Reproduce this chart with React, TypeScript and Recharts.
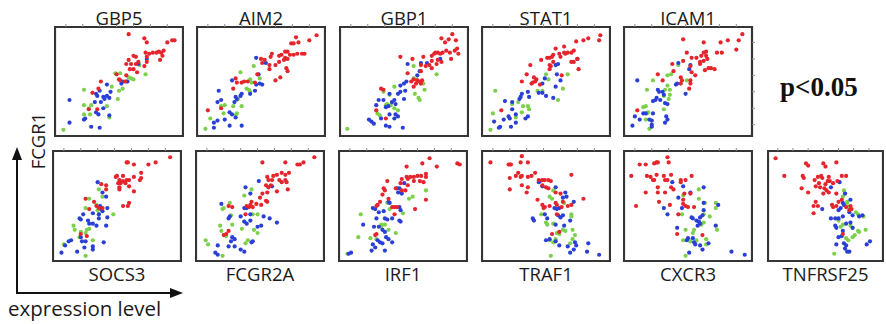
import React from 'react';
import { ScatterChart, Scatter, XAxis, YAxis, ReferenceArea } from 'recharts';

type Pt = [number, number];

// ---------- data (x = expression level, y = FCGR1), 0..100 scale ----------
const gbp5Red: Pt[] = [[58,96],[71,92],[73,88],[94,90],[96,90],[90,88],[87,80],[83,79],[85,78],[81,78],[78,78],[75,77],[72,78],[73,74],[86,75],[84,71],[62,75],[64,74],[58,71],[56,67],[60,67],[64,67],[66,69],[73,69],[71,65],[62,62],[65,59],[59,62],[56,56],[51,51],[50,52],[55,50],[48,57],[35,50],[33,43],[32,23],[25,23],[28,39]];
const gbp5Blue: Pt[] = [[56,50],[57,50],[53,50],[52,48],[66,67],[73,72],[40,47],[43,40],[40,36],[42,34],[37,35],[38,33],[31,38],[32,36],[30,30],[35,30],[9,32],[34,41],[31,20],[33,18],[21,13],[22,14],[9,10],[27,6],[34,5],[37,24],[42,17]];
const gbp5Green: Pt[] = [[4,3],[21,42],[21,27],[21,18],[27,27],[25,24],[26,18],[44,45],[47,58],[51,58],[50,41],[53,43],[49,33],[40,26],[42,15],[62,52],[60,53],[66,68],[67,66],[72,57],[58,54]];

const aim2Red: Pt[] = [[96,95],[90,90],[79,93],[81,88],[77,87],[75,87],[72,79],[70,79],[77,76],[80,77],[84,77],[86,77],[74,76],[67,76],[65,75],[59,77],[58,74],[70,73],[72,72],[69,71],[65,69],[62,66],[71,63],[72,60],[57,66],[57,62],[53,71],[51,68],[50,72],[66,54],[62,51],[47,57],[45,49],[39,50],[36,50],[34,49],[29,53],[30,49],[27,43],[6,22],[17,24]];
const aim2Blue: Pt[] = [[46,73],[54,68],[48,57],[49,48],[51,47],[46,47],[26,51],[15,41],[14,30],[17,32],[34,38],[33,36],[29,35],[30,33],[28,30],[41,38],[45,41],[24,20],[26,18],[20,13],[11,10],[14,12],[11,5],[24,7],[34,7],[29,15]];
const aim2Green: Pt[] = [[4,4],[8,14],[20,27],[17,26],[19,19],[33,59],[44,65],[41,52],[42,49],[38,43],[40,42],[41,40],[31,33],[30,32],[27,26],[30,19],[29,17],[34,26],[49,53]];

const gbp1Red: Pt[] = [[90,96],[81,92],[87,91],[93,90],[84,88],[94,82],[92,80],[95,77],[85,80],[82,78],[78,78],[75,77],[73,75],[76,78],[80,77],[88,78],[89,72],[66,74],[57,72],[47,74],[73,70],[78,71],[77,67],[81,69],[64,66],[68,65],[71,66],[73,63],[64,60],[53,58],[58,52],[61,51],[63,50],[65,51],[56,50],[60,48],[64,48],[58,45],[31,43],[33,42],[27,22],[35,14]];
const gbp1Blue: Pt[] = [[53,67],[64,68],[69,68],[80,72],[63,60],[61,56],[52,50],[50,48],[47,46],[47,40],[45,38],[51,41],[38,38],[42,32],[40,30],[43,28],[50,33],[29,32],[33,32],[35,25],[37,26],[27,27],[38,18],[43,18],[45,16],[42,14],[21,13],[23,11],[25,9],[35,7],[38,6],[49,5],[31,14]];
const gbp1Green: Pt[] = [[3,4],[58,65],[58,53],[60,52],[42,45],[66,48],[67,42],[59,38],[62,34],[63,32],[77,57],[38,37],[33,40],[35,27],[39,27],[42,24],[45,22],[28,19],[30,17],[36,28]];

const stat1Red: Pt[] = [[95,95],[94,90],[85,92],[81,90],[75,89],[73,80],[71,78],[68,78],[66,77],[65,78],[61,77],[62,74],[56,76],[55,74],[53,73],[51,73],[46,71],[65,84],[58,82],[76,72],[73,69],[71,69],[77,62],[56,69],[53,66],[54,65],[37,66],[53,62],[34,57],[40,54],[42,52],[41,50],[39,49],[38,48],[30,50],[63,56],[45,47],[13,22]];
const stat1Blue: Pt[] = [[76,72],[58,66],[60,67],[59,57],[62,51],[49,53],[47,48],[44,39],[47,39],[50,36],[58,45],[56,34],[35,40],[36,35],[30,38],[29,35],[28,33],[22,30],[16,31],[22,23],[19,16],[20,14],[15,13],[12,6],[11,5],[21,6],[25,10],[33,14],[35,16],[25,18],[7,11]];
const stat1Green: Pt[] = [[4,3],[8,41],[6,19],[27,30],[31,26],[35,26],[36,23],[30,20],[25,15],[22,28],[50,57],[52,52],[47,41],[60,32],[64,43],[68,57],[43,41]];

const icam1Red: Pt[] = [[95,96],[92,90],[83,90],[77,88],[90,81],[63,88],[46,91],[74,78],[78,78],[65,79],[63,78],[65,75],[61,75],[66,72],[63,70],[69,63],[72,62],[67,63],[64,61],[60,69],[60,67],[57,73],[53,73],[49,78],[46,70],[37,67],[38,60],[52,65],[53,59],[56,56],[52,51],[52,48],[51,43],[44,54],[45,51],[29,51],[25,57],[8,22],[44,48]];
const icam1Blue: Pt[] = [[42,68],[52,66],[51,62],[8,51],[41,48],[40,47],[48,38],[25,42],[26,40],[29,40],[30,37],[24,34],[23,32],[27,32],[21,31],[31,29],[33,28],[13,19],[15,19],[21,19],[6,16],[10,13],[18,13],[20,12],[32,16],[33,13],[31,10],[20,8],[20,6],[4,7]];
const icam1Green: Pt[] = [[16,42],[21,51],[33,56],[36,57],[42,66],[33,46],[35,42],[35,37],[34,33],[30,36],[31,42],[15,26],[13,25],[17,20],[16,19],[30,23],[18,4],[15,13],[49,51]];

const socs3Red: Pt[] = [[94,97],[82,92],[76,90],[64,90],[58,92],[59,92],[70,82],[70,77],[69,75],[64,78],[55,79],[50,79],[49,78],[52,75],[55,74],[58,75],[60,75],[57,72],[53,72],[51,72],[52,68],[52,66],[60,69],[64,64],[60,53],[59,50],[55,50],[41,70],[37,71],[41,66],[24,57],[31,54],[33,50],[27,47],[38,48],[35,48],[20,23],[25,21]];
const socs3Blue: Pt[] = [[34,73],[38,63],[41,59],[36,50],[37,47],[38,45],[42,48],[35,42],[30,43],[22,42],[20,37],[19,38],[26,36],[27,33],[30,33],[33,31],[35,38],[42,39],[41,31],[12,17],[10,16],[20,20],[21,16],[24,16],[30,11],[30,8],[39,15],[17,6],[4,5],[23,10],[7,12]];
const socs3Green: Pt[] = [[35,66],[38,59],[27,57],[24,48],[33,51],[34,46],[35,42],[47,42],[14,31],[15,27],[20,25],[25,27],[27,28],[24,24],[19,20],[30,17],[6,13],[24,2]];

const fcgr2aRed: Pt[] = [[95,97],[86,92],[83,90],[81,90],[71,92],[52,92],[74,82],[71,80],[68,82],[64,80],[61,79],[56,78],[57,75],[60,75],[66,75],[71,75],[72,73],[68,73],[55,70],[57,68],[59,70],[64,64],[73,66],[56,63],[52,62],[50,58],[55,55],[56,54],[43,54],[42,51],[44,49],[47,52],[51,51],[39,50],[41,49],[24,50],[27,49],[38,42],[20,22],[22,23],[24,26]];
const fcgr2aBlue: Pt[] = [[49,74],[38,68],[60,69],[42,62],[18,52],[39,48],[37,48],[42,42],[34,40],[25,40],[24,38],[37,35],[39,33],[42,36],[53,40],[58,38],[64,34],[51,31],[48,30],[27,20],[29,18],[26,16],[29,11],[15,12],[44,16],[43,15],[34,8],[37,6],[13,5],[15,3],[24,11]];
const fcgr2aGreen: Pt[] = [[37,60],[43,66],[25,53],[19,47],[20,48],[26,41],[27,32],[17,31],[18,26],[35,28],[44,42],[48,42],[45,27],[48,24],[37,35],[40,17],[38,14],[5,17],[7,13],[19,2],[22,21]];

const irf1Red: Pt[] = [[72,96],[66,91],[78,88],[95,91],[97,90],[53,88],[69,81],[69,78],[65,79],[62,79],[59,78],[56,78],[53,78],[54,76],[49,76],[48,72],[64,74],[67,73],[59,74],[54,70],[37,74],[52,65],[49,65],[34,67],[35,65],[44,67],[33,61],[38,57],[31,54],[28,50],[29,51],[41,49],[43,49],[45,49],[43,42],[69,56],[60,47],[27,22],[28,23]];
const irf1Blue: Pt[] = [[51,72],[45,67],[47,67],[46,63],[49,62],[38,54],[39,53],[25,48],[27,47],[30,44],[28,38],[34,45],[35,38],[37,37],[47,49],[48,46],[47,36],[48,35],[41,38],[26,30],[30,30],[17,32],[33,27],[35,25],[36,20],[38,18],[29,17],[31,15],[25,13],[27,10],[33,14],[41,15],[24,7],[35,7],[7,5],[5,4]];
const irf1Green: Pt[] = [[37,53],[39,47],[55,57],[58,59],[50,43],[69,65],[15,42],[32,32],[32,30],[38,27],[35,32],[44,24],[13,20],[23,19],[28,18],[4,4]];

const traf1Red: Pt[] = [[4,92],[19,90],[20,90],[21,90],[30,98],[29,92],[35,92],[27,82],[25,79],[29,78],[30,79],[35,78],[38,79],[41,82],[20,77],[44,75],[47,75],[49,75],[52,75],[54,74],[30,70],[35,68],[34,63],[20,66],[47,70],[50,68],[52,67],[58,63],[62,62],[71,80],[43,56],[47,51],[49,49],[48,48],[53,50],[58,53],[59,51],[64,54],[63,49],[68,50],[71,51],[81,57],[59,42],[55,23],[61,25]];
const traf1Blue: Pt[] = [[44,73],[45,74],[47,69],[58,68],[66,63],[67,59],[64,58],[73,54],[57,48],[59,47],[61,48],[49,42],[60,41],[62,39],[64,41],[39,38],[40,36],[51,38],[58,32],[65,31],[70,36],[50,17],[53,18],[58,16],[61,12],[68,11],[74,15],[75,12],[73,8],[70,5],[85,14],[84,6],[94,3]];
const traf1Green: Pt[] = [[56,65],[53,59],[55,57],[65,53],[46,42],[71,42],[71,40],[50,34],[51,32],[56,33],[64,27],[66,26],[72,27],[74,22],[72,18],[59,24],[61,23],[53,17],[56,15],[70,14],[54,2],[58,18]];

const cxcr3Red: Pt[] = [[33,97],[34,92],[24,92],[22,91],[25,92],[10,90],[15,90],[3,79],[24,80],[16,79],[19,78],[21,75],[22,75],[30,79],[31,75],[33,75],[36,80],[44,75],[44,73],[53,79],[48,75],[25,68],[25,63],[36,68],[38,66],[31,63],[15,63],[47,62],[52,62],[46,56],[26,54],[35,51],[46,52],[48,50],[50,49],[55,49],[7,50],[42,42],[41,23],[62,22]];
const cxcr3Blue: Pt[] = [[37,73],[46,69],[52,63],[63,68],[42,58],[45,48],[30,48],[33,42],[53,39],[54,38],[57,36],[59,35],[60,33],[60,39],[62,41],[58,31],[63,46],[63,53],[75,51],[73,31],[41,29],[49,17],[50,19],[55,15],[56,13],[54,19],[60,12],[62,8],[67,14],[51,5],[86,6],[97,3]];
const cxcr3Green: Pt[] = [[59,66],[59,57],[46,60],[64,53],[45,42],[73,53],[73,48],[68,40],[63,42],[63,34],[61,32],[74,27],[55,27],[54,24],[48,27],[57,17],[56,15],[65,18],[46,17],[65,13],[48,2],[52,16]];

const tnfrsf25Red: Pt[] = [[4,96],[12,79],[32,91],[34,89],[48,91],[50,88],[60,92],[29,79],[30,77],[40,75],[43,78],[46,79],[47,77],[53,78],[65,79],[69,79],[61,74],[57,72],[54,74],[52,74],[50,71],[44,72],[45,68],[49,67],[51,65],[53,63],[48,62],[41,69],[28,67],[34,63],[60,62],[41,54],[39,50],[43,50],[39,43],[56,51],[57,49],[60,50],[62,54],[65,56],[69,49],[73,50],[74,47],[66,23],[72,46]];
const tnfrsf25Blue: Pt[] = [[55,68],[63,73],[68,62],[66,53],[67,51],[73,56],[47,47],[62,46],[64,48],[72,44],[55,38],[59,38],[62,38],[66,40],[69,33],[73,34],[75,41],[81,40],[84,41],[59,31],[60,29],[75,29],[62,20],[65,21],[60,13],[67,14],[69,12],[68,9],[70,6],[72,6],[88,13],[91,16],[66,26]];
const tnfrsf25Green: Pt[] = [[67,65],[68,62],[66,59],[70,54],[70,53],[71,49],[78,44],[80,42],[85,40],[62,36],[64,30],[66,32],[73,31],[75,29],[80,26],[81,25],[77,22],[75,20],[87,27],[58,4],[71,17],[69,19]];

const geneNames = ['GBP5', 'AIM2', 'GBP1', 'STAT1', 'ICAM1', 'SOCS3', 'FCGR2A', 'IRF1', 'TRAF1', 'CXCR3', 'TNFRSF25'];
const yLabel = 'FCGR1';
const xLabel = 'expression level';
const pLabel = 'p<0.05';
const topTicks = [6, 20, 34, 48, 62, 76, 90];
const rightTicks = [8, 24, 40, 56, 72, 88];

const seriesByGene: Record<string, Pt[][]> = {
  GBP5: [gbp5Red, gbp5Blue, gbp5Green],
  AIM2: [aim2Red, aim2Blue, aim2Green],
  GBP1: [gbp1Red, gbp1Blue, gbp1Green],
  STAT1: [stat1Red, stat1Blue, stat1Green],
  ICAM1: [icam1Red, icam1Blue, icam1Green],
  SOCS3: [socs3Red, socs3Blue, socs3Green],
  FCGR2A: [fcgr2aRed, fcgr2aBlue, fcgr2aGreen],
  IRF1: [irf1Red, irf1Blue, irf1Green],
  TRAF1: [traf1Red, traf1Blue, traf1Green],
  CXCR3: [cxcr3Red, cxcr3Blue, cxcr3Green],
  TNFRSF25: [tnfrsf25Red, tnfrsf25Blue, tnfrsf25Green],
};

// ---------- layout / style ----------
const RED = '#e5242c';
const BLUE = '#2a3fd6';
const GREEN = '#7dd04b';
const FRAME = '#353535';
const FONT = '"Open Sans", "Noto Sans", sans-serif';

const layout: Record<string, { left: number; top: number; w: number; h: number; row: number; rt?: boolean }> = {
  GBP5: { left: 54, top: 26, w: 130, h: 111, row: 0 },
  AIM2: { left: 196, top: 26, w: 130, h: 111, row: 0 },
  GBP1: { left: 339, top: 26, w: 130, h: 111, row: 0 },
  STAT1: { left: 481, top: 26, w: 130, h: 111, row: 0 },
  ICAM1: { left: 623, top: 26, w: 130, h: 111, row: 0, rt: true },
  SOCS3: { left: 52, top: 150, w: 130, h: 112, row: 1 },
  FCGR2A: { left: 195, top: 150, w: 130, h: 112, row: 1 },
  IRF1: { left: 338, top: 150, w: 130, h: 112, row: 1 },
  TRAF1: { left: 481, top: 150, w: 130, h: 112, row: 1 },
  CXCR3: { left: 623, top: 150, w: 130, h: 112, row: 1 },
  TNFRSF25: { left: 767, top: 150, w: 117, h: 112, row: 1 },
};

const toObj = (a: Pt[]) => a.map(([x, y]) => ({ x, y }));
const dot = (color: string) => (p: any) => <circle cx={p.cx} cy={p.cy} r={2.1} fill={color} />;

function Panel({ gene }: { gene: string }) {
  const L = layout[gene];
  const [red, blue, green] = seriesByGene[gene];
  const rw = L.rt ? 5 : 0;
  return (
    <div style={{ position: 'absolute', left: L.left, top: L.top - 5 }}>
      <ScatterChart width={L.w + rw} height={L.h + 5} margin={{ top: 1, right: 1, bottom: 1, left: 1 }}>
        <XAxis
          type="number"
          dataKey="x"
          domain={[-3, 103]}
          orientation="top"
          height={5}
          ticks={topTicks}
          tickSize={3}
          axisLine={false}
          tickLine={{ stroke: '#8c8c8c', strokeWidth: 1 }}
          tickFormatter={() => ''}
          allowDataOverflow
        />
        <YAxis
          type="number"
          dataKey="y"
          domain={[-3, 103]}
          orientation="right"
          width={rw}
          hide={!L.rt}
          ticks={rightTicks}
          tickSize={3}
          axisLine={false}
          tickLine={{ stroke: '#8c8c8c', strokeWidth: 1 }}
          tickFormatter={() => ''}
          allowDataOverflow
        />
        <ReferenceArea x1={-3} x2={103} y1={-3} y2={103} fill="#ffffff" fillOpacity={0} stroke={FRAME} strokeWidth={2.2} ifOverflow="visible" />
        <Scatter data={toObj(green)} isAnimationActive={false} shape={dot(GREEN)} />
        <Scatter data={toObj(blue)} isAnimationActive={false} shape={dot(BLUE)} />
        <Scatter data={toObj(red)} isAnimationActive={false} shape={dot(RED)} />
      </ScatterChart>
    </div>
  );
}

export default function App() {
  return (
    <div style={{ position: 'absolute', left: 0, top: 0, width: 886, height: 324, background: '#fff', overflow: 'hidden' }}>
      {geneNames.map((g) => (
        <Panel key={g} gene={g} />
      ))}
      <svg width={886} height={324} style={{ position: 'absolute', left: 0, top: 0, pointerEvents: 'none' }}>
        {geneNames.map((g) => {
          const L = layout[g];
          return (
            <text
              key={g}
              x={L.left + L.w / 2}
              y={L.row === 0 ? 25 : 281}
              textAnchor="middle"
              fontFamily={FONT}
              fontSize={18.5}
              fill="#1a1a1a"
            >
              {g}
            </text>
          );
        })}
        <text transform="translate(45,141) rotate(-90)" textAnchor="middle" fontFamily={FONT} fontSize={18.5} fill="#1a1a1a">
          {yLabel}
        </text>
        <text x={8} y={316} fontFamily={FONT} fontSize={20.5} fill="#1a1a1a">
          {xLabel}
        </text>
        <text x={780} y={96} fontFamily='"Liberation Serif", "DejaVu Serif", serif' fontWeight="bold" fontSize={27} fill="#111">
          {pLabel}
        </text>
        <line x1={17} y1={294} x2={17} y2={158} stroke="#111" strokeWidth={2} />
        <polygon points="17,147 12,160 22,160" fill="#111" />
        <line x1={16} y1={293} x2={172} y2={293} stroke="#111" strokeWidth={2} />
        <polygon points="183,293 170,288 170,298" fill="#111" />
      </svg>
    </div>
  );
}
